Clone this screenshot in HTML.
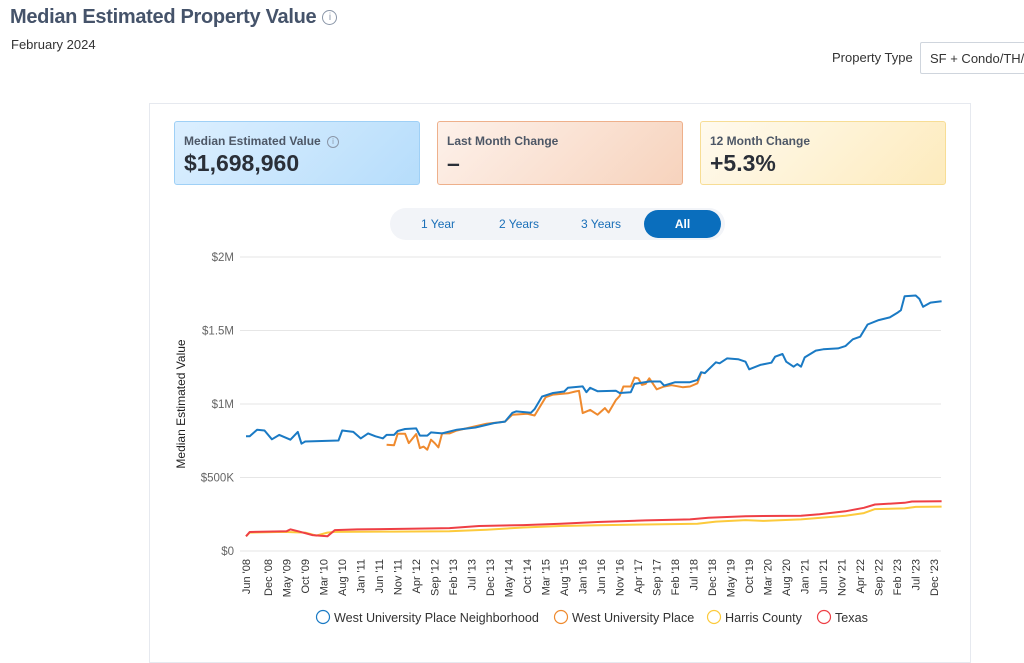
<!DOCTYPE html>
<html><head><meta charset="utf-8">
<style>
body{margin:0;width:1024px;height:652px;overflow:hidden;background:#fff;font-family:"Liberation Sans",sans-serif;position:relative;color:#333}
.abs{position:absolute}
.title{left:10px;top:6px;font-size:20px;font-weight:bold;color:#45536a;letter-spacing:-0.3px}
.info{display:inline-block;width:13px;height:13px;border:1px solid #8a96a8;border-radius:50%;font-size:10px;line-height:13px;text-align:center;color:#8a96a8;font-weight:normal;vertical-align:middle;margin-left:6px}
.card{left:149px;top:103px;width:822px;height:560px;border:1px solid #e6e9ef;box-sizing:border-box}
.stat{top:121px;width:246px;height:64px;border-radius:3px;box-sizing:border-box}
.stat .lbl{position:absolute;left:9px;top:12px;font-size:12px;font-weight:bold;color:#4d5766}
.stat .val{position:absolute;left:9px;top:28px;font-size:23px;font-weight:bold;color:#2a2f38}
.pill{left:390px;top:208px;width:335px;height:32px;border-radius:16px;background:#f2f4f8}
.pill span{position:absolute;top:9px;font-size:12px;color:#1a6fb8}
</style></head><body>
<div class="abs title">Median Estimated Property Value<span class="info">i</span></div>
<div class="abs" style="left:11px;top:37px;font-size:13px;color:#333">February 2024</div>
<div class="abs" style="left:832px;top:50px;font-size:13px;color:#333">Property Type</div>
<div class="abs" style="left:920px;top:42px;width:120px;height:32px;border:1px solid #cfd5dd;box-sizing:border-box;border-radius:2px;font-size:13px;padding:8px 0 0 9px">SF + Condo/TH/</div>
<div class="abs card"></div>
<div class="abs stat" style="left:174px;background:linear-gradient(135deg,#dcefff,#b6ddfb);border:1px solid #9fd0f6"><div class="lbl">Median Estimated Value <span class="info" style="width:10px;height:10px;line-height:10px;font-size:8px;margin-left:3px">i</span></div><div class="val">$1,698,960</div></div>
<div class="abs stat" style="left:437px;background:linear-gradient(135deg,#fdf1ea,#f7d3bd);border:1px solid #eeb08b"><div class="lbl">Last Month Change</div><div class="val">–</div></div>
<div class="abs stat" style="left:700px;background:linear-gradient(135deg,#fffaee,#fdebbd);border:1px solid #f7dd95"><div class="lbl">12 Month Change</div><div class="val">+5.3%</div></div>
<div class="abs pill">
<span style="left:31px">1 Year</span>
<span style="left:109px">2 Years</span>
<span style="left:191px">3 Years</span>
<div style="position:absolute;left:254px;top:2px;width:77px;height:28px;border-radius:14px;background:#0a6ebd;color:#fff;font-size:12px;font-weight:bold;text-align:center;line-height:28px">All</div>
</div>
<svg class="abs" style="left:0;top:0" width="1024" height="652" id="chart"></svg>
<script>
const yTicks=[0,500000,1000000,1500000,2000000];
const yTickLabels=["$0","$500K","$1M","$1.5M","$2M"];
const xTickMonths=[0,6,11,16,21,26,31,36,41,46,51,56,61,66,71,76,81,86,91,96,101,106,111,116,121,126,131,136,141,146,151,156,161,166,171,176,181,186];
const xTickLabels=["Jun '08","Dec '08","May '09","Oct '09","Mar '10","Aug '10","Jan '11","Jun '11","Nov '11","Apr '12","Sep '12","Feb '13","Jul '13","Dec '13","May '14","Oct '14","Mar '15","Aug '15","Jan '16","Jun '16","Nov '16","Apr '17","Sep '17","Feb '18","Jul '18","Dec '18","May '19","Oct '19","Mar '20","Aug '20","Jan '21","Jun '21","Nov '21","Apr '22","Sep '22","Feb '23","Jul '23","Dec '23"];
const nbhdMonths=[0,1,3,5,7,9,12,14,15,16,25,26,29,31,33,35,37,38,40,41,43,46,47,49,50,53,57,62,67,70,72,73,77,78,80,83,86,87,91,92,93,95,100,101,104,105,109,112,113,116,120,122,123,124,127,128,130,133,135,136,139,142,143,145,146,148,149,150,151,154,156,160,162,164,166,168,171,174,176,177,178,181,182,183,185,188];
const nbhdValues=[780000,780000,825000,820000,760000,790000,757000,810000,730000,745000,752000,820000,810000,766000,800000,780000,766000,790000,790000,816000,830000,834000,785000,785000,807000,800000,825000,840000,870000,880000,940000,950000,940000,965000,1050000,1075000,1085000,1110000,1120000,1080000,1110000,1087000,1090000,1075000,1080000,1137000,1153000,1153000,1125000,1148000,1148000,1164000,1216000,1210000,1284000,1277000,1310000,1305000,1288000,1236000,1266000,1281000,1322000,1340000,1288000,1254000,1272000,1254000,1317000,1363000,1372000,1378000,1394000,1440000,1458000,1541000,1571000,1589000,1620000,1638000,1733000,1738000,1715000,1661000,1690000,1699000];
const wupMonths=[38,40,41,43,44,46,47,48,49,50,51,52,53,55,57,61,65,70,72,76,78,81,83,87,89,90,91,93,95,97,98,100,101,102,104,105,106,107,108,109,111,113,115,118,120,122,123];
const wupValues=[723000,719000,798000,798000,734000,796000,700000,710000,689000,757000,734000,705000,800000,800000,820000,843000,866000,880000,927000,933000,922000,1046000,1064000,1073000,1085000,1090000,938000,960000,927000,972000,942000,1028000,1055000,1119000,1119000,1180000,1175000,1130000,1137000,1175000,1100000,1119000,1128000,1114000,1119000,1141000,1209000];
const harrisMonths=[0,1,10,16,19,22,24,40,55,65,75,85,95,108,122,127,135,140,150,155,162,167,170,178,181,188];
const harrisValues=[100000,125000,130000,125000,105000,125000,130000,132000,135000,145000,160000,170000,175000,180000,185000,200000,210000,205000,215000,225000,240000,258000,285000,290000,300000,302000];
const texasMonths=[0,1,11,12,14,18,22,24,30,44,55,63,75,85,95,108,120,125,135,150,155,162,167,170,178,180,188];
const texasValues=[100000,129000,135000,147000,135000,108000,100000,142000,147000,151000,156000,170000,176000,185000,197000,208000,215000,226000,237000,240000,250000,270000,294000,316000,328000,337000,339000];
const X0=246,PXM=3.70,Y0=551,PXV=294/2000000;
const xs=m=>X0+m*PXM, ys=v=>Y0-v*PXV;
const svg=document.getElementById('chart');
const NS='http://www.w3.org/2000/svg';
function mk(tag,attrs){const e=document.createElementNS(NS,tag);for(const k in attrs)e.setAttribute(k,attrs[k]);svg.appendChild(e);return e;}
yTicks.forEach((v,i)=>{
 const g=mk('line',{x1:240,x2:941,y1:ys(v),y2:ys(v),stroke:'#e6e6e6','stroke-width':1});
 
 
 const t=mk('text',{x:234,y:ys(v)+4,'text-anchor':'end','font-size':11.5,fill:'#666','font-family':'Liberation Sans'});
 t.textContent=yTickLabels[i];
 
 
});
xTickMonths.forEach((m,i)=>{
 const t=mk('text',{x:0,y:0,'text-anchor':'end','font-size':11,fill:'#333','font-family':'Liberation Sans',transform:`translate(${xs(m)+4},${559}) rotate(-90)`});
 t.textContent=xTickLabels[i];
 
 
});
const yt=mk('text',{x:0,y:0,'text-anchor':'middle','font-size':12,fill:'#222','font-family':'Liberation Sans',transform:'translate(185,404) rotate(-90)'});
yt.textContent='Median Estimated Value';


function line(ms,vs,color,name){
 const d=ms.map((m,i)=>(i?'L':'M')+xs(m).toFixed(1)+','+ys(vs[i]).toFixed(1)).join(' ');
 const p=mk('path',{d:d,fill:'none',stroke:color,'stroke-width':2,'stroke-linejoin':'round'});
 
 
}
line(harrisMonths,harrisValues,'#fcca3c','line-harris-county');
line(texasMonths,texasValues,'#ee3f45','line-texas');
line(wupMonths,wupValues,'#ef8a2e','line-west-university-place');
line(nbhdMonths,nbhdValues,'#1a7ac4','line-west-university-place-neighborhood');
const legNames=['West University Place Neighborhood','West University Place','Harris County','Texas'];
const legColors=['#1a7ac4','#ef8a2e','#fcca3c','#ee3f45'];
const legX=[323,561,714,824];
legNames.forEach((n,i)=>{
 const c=mk('circle',{cx:legX[i],cy:617,r:6.5,fill:'none',stroke:legColors[i],'stroke-width':1.2});
 
 
 const t=mk('text',{x:legX[i]+11,y:622,'font-size':12.6,fill:'#333','font-family':'Liberation Sans'});
 t.textContent=n;
 
 
});
</script>
</body></html>
